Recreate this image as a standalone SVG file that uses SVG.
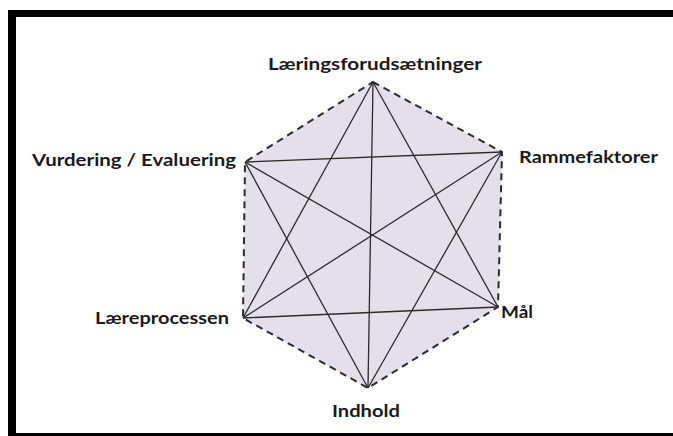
<svg xmlns="http://www.w3.org/2000/svg" width="673" height="436" viewBox="0 0 673 436">
<style>
.lbl{font-family:Lato,"Liberation Sans",sans-serif;font-weight:700;font-size:17px;fill:#1a1a1a}
.edge{stroke:#2b2b2b;stroke-width:2;stroke-dasharray:7 5;fill:none}
.diag{stroke:#2b2b2b;stroke-width:1.3;fill:none}
</style>
<rect x="0" y="0" width="673" height="436" fill="#ffffff"/>
<!-- frame -->
<rect x="8" y="10" width="665" height="7" fill="#000"/>
<rect x="8" y="10" width="8" height="426" fill="#000"/>
<rect x="8" y="433" width="665" height="3" fill="#000"/>
<polygon points="373,82 502,152 498,307 368,388 243,318 245,162" fill="#e4e0eb"/>
<g id="connectors">
<polygon class="edge" points="373,82 502,152 498,307 368,388 243,318 245,162"/>
<line class="diag" x1="373" y1="82" x2="368" y2="388"/>
<line class="diag" x1="373" y1="82" x2="243" y2="318"/>
<line class="diag" x1="373" y1="82" x2="498" y2="307"/>
<line class="diag" x1="245" y1="162" x2="502" y2="152"/>
<line class="diag" x1="245" y1="162" x2="498" y2="307"/>
<line class="diag" x1="245" y1="162" x2="368" y2="388"/>
<line class="diag" x1="502" y1="152" x2="243" y2="318"/>
<line class="diag" x1="502" y1="152" x2="368" y2="388"/>
<line class="diag" x1="243" y1="318" x2="498" y2="307"/>
</g>
<g id="node-laeringsforudsaetninger"><text class="lbl" x="268" y="70" textLength="214" lengthAdjust="spacingAndGlyphs">Læringsforudsætninger</text></g>
<g id="node-rammefaktorer"><text class="lbl" x="519" y="163" textLength="139" lengthAdjust="spacingAndGlyphs">Rammefaktorer</text></g>
<g id="node-maal"><text class="lbl" x="501" y="318" textLength="32" lengthAdjust="spacingAndGlyphs">Mål</text></g>
<g id="node-indhold"><text class="lbl" x="332" y="417" textLength="68" lengthAdjust="spacingAndGlyphs">Indhold</text></g>
<g id="node-laereprocessen"><text class="lbl" x="95" y="324" textLength="134" lengthAdjust="spacingAndGlyphs">Læreprocessen</text></g>
<g id="node-vurdering"><text class="lbl" x="32" y="166" textLength="204" lengthAdjust="spacingAndGlyphs">Vurdering / Evaluering</text></g>
</svg>
